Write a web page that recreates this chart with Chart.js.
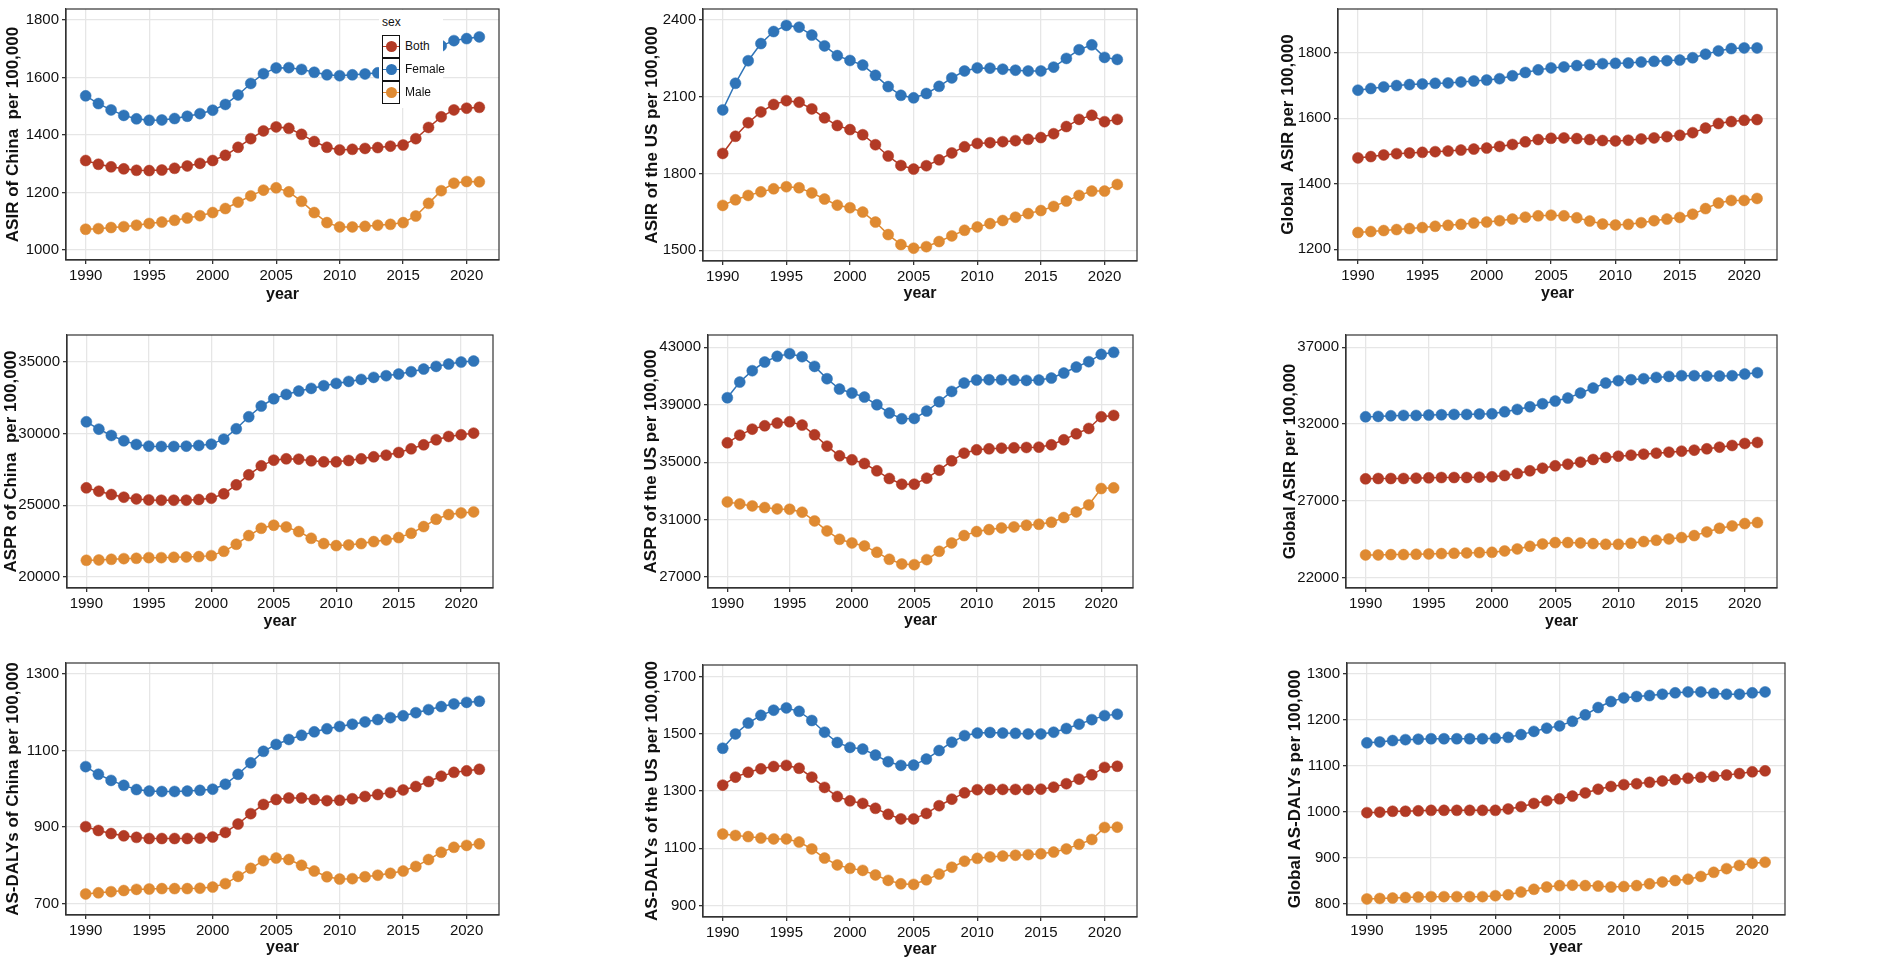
<!DOCTYPE html>
<html>
<head>
<meta charset="utf-8">
<script src="https://cdn.jsdelivr.net/npm/chart.js@4.4.0/dist/chart.umd.min.js"></script>
<style>
  body { margin: 0; background: #fff; width: 1902px; height: 968px; position: relative; overflow: hidden; }
  canvas { position: absolute; }
  #legend { position: absolute; left: 379px; top: 10px; width: 64px; height: 98px; background: #fff;
            font-family: 'Liberation Sans', Arial, sans-serif; color: #111; }
  #legend .lt { position: absolute; left: 3px; top: 5px; font-size: 12px; }
  #legend .key { position: absolute; left: 3px; width: 16px; height: 21px; border: 1.5px solid #111; }
  #legend .ln { position: absolute; left: 0; right: 0; top: 9.5px; height: 1.5px; }
  #legend .pt { position: absolute; left: 2.5px; top: 5px; width: 11px; height: 11px; border-radius: 50%; }
  #legend .lb { position: absolute; left: 26px; font-size: 12px; }
</style>
</head>
<body>
<canvas id="c1"></canvas><canvas id="c2"></canvas><canvas id="c3"></canvas>
<canvas id="c4"></canvas><canvas id="c5"></canvas><canvas id="c6"></canvas>
<canvas id="c7"></canvas><canvas id="c8"></canvas><canvas id="c9"></canvas>
<div id="legend"></div>
<script>
// years and tick labels
var years = [1990,1991,1992,1993,1994,1995,1996,1997,1998,1999,2000,2001,2002,2003,2004,2005,
             2006,2007,2008,2009,2010,2011,2012,2013,2014,2015,2016,2017,2018,2019,2020,2021];
var yearTicks = [1990, 1995, 2000, 2005, 2010, 2015, 2020];
var sexNames = ["Both", "Female", "Male"];
var sexColors = ["#B23A25", "#2F74B8", "#DF8A32"];

// ASIR of China
var asirChinaBoth   = [1311,1298,1289,1282,1277,1276,1278,1284,1292,1301,1311,1329,1357,1387,1414,1428,1423,1402,1377,1357,1348,1350,1353,1356,1361,1365,1387,1426,1463,1487,1493,1496];
var asirChinaFemale = [1536,1509,1487,1468,1456,1451,1452,1457,1465,1474,1486,1506,1539,1579,1613,1633,1634,1628,1618,1609,1606,1609,1612,1616,1622,1630,1650,1680,1710,1728,1735,1741];
var asirChinaMale   = [1072,1074,1078,1081,1086,1092,1097,1103,1111,1119,1130,1144,1166,1188,1208,1216,1202,1169,1130,1095,1080,1080,1082,1086,1089,1095,1118,1162,1206,1232,1238,1237];
var asirChinaTicks  = [1000, 1200, 1400, 1600, 1800];

// ASIR of the US
var asirUsBoth   = [1878,1945,1998,2040,2069,2084,2078,2052,2017,1987,1971,1951,1912,1868,1831,1817,1830,1853,1880,1904,1917,1920,1924,1928,1933,1940,1955,1983,2011,2027,2002,2011];
var asirUsFemale = [2048,2152,2240,2307,2354,2378,2371,2340,2298,2260,2241,2223,2183,2139,2105,2095,2112,2140,2173,2200,2212,2211,2207,2203,2200,2200,2215,2249,2283,2302,2253,2245];
var asirUsMale   = [1675,1697,1714,1728,1740,1748,1744,1724,1700,1676,1666,1649,1610,1561,1522,1508,1514,1534,1556,1578,1591,1604,1616,1629,1643,1655,1671,1692,1714,1731,1731,1757];
var asirUsTicks  = [1500, 1800, 2100, 2400];

// Global ASIR
var asirGlobalBoth   = [1479,1483,1488,1492,1494,1496,1498,1500,1503,1506,1509,1514,1520,1528,1535,1539,1540,1538,1535,1532,1531,1533,1537,1540,1544,1548,1556,1570,1584,1590,1594,1596];
var asirGlobalFemale = [1686,1691,1696,1700,1703,1705,1707,1708,1711,1714,1717,1721,1730,1740,1748,1754,1757,1761,1764,1767,1768,1769,1772,1774,1776,1778,1785,1796,1806,1813,1815,1815];
var asirGlobalMale   = [1251,1254,1257,1260,1263,1266,1270,1273,1276,1280,1283,1287,1292,1298,1302,1304,1302,1296,1286,1277,1274,1276,1281,1287,1292,1297,1307,1324,1341,1349,1349,1355];
var asirGlobalTicks  = [1200, 1400, 1600, 1800];

// ASPR of China
var asprChinaBoth   = [26209,25977,25744,25558,25442,25372,25349,25349,25349,25395,25488,25791,26419,27116,27744,28140,28233,28209,28093,28023,28023,28116,28233,28372,28488,28674,28930,29209,29558,29791,29907,30023];
var asprChinaFemale = [30814,30302,29860,29488,29233,29116,29093,29093,29116,29163,29256,29605,30326,31163,31907,32419,32721,32953,33140,33326,33488,33628,33767,33907,34023,34140,34302,34488,34674,34837,34977,35047];
var asprChinaMale   = [21163,21186,21233,21279,21302,21349,21349,21372,21395,21419,21488,21791,22279,22884,23395,23605,23488,23163,22698,22326,22186,22233,22326,22465,22581,22744,23047,23512,24023,24349,24465,24535];
var asprChinaTicks  = [20000, 25000, 30000, 35000];

// ASPR of the US
var asprUsBoth   = [36349,36884,37302,37535,37721,37814,37581,36907,36116,35442,35163,34907,34395,33860,33465,33465,33884,34442,35093,35628,35860,35930,35977,36000,36023,36047,36209,36558,36977,37349,38163,38256];
var asprUsFemale = [39488,40581,41372,41977,42372,42558,42349,41674,40814,40093,39814,39535,39000,38419,38023,38047,38558,39209,39930,40512,40721,40744,40744,40721,40698,40721,40860,41209,41628,42000,42512,42651];
var asprUsMale   = [32233,32093,31953,31837,31744,31721,31512,30907,30209,29628,29372,29163,28721,28233,27907,27860,28209,28791,29372,29884,30163,30302,30419,30488,30605,30674,30814,31140,31535,32023,33163,33209];
var asprUsTicks  = [27000, 31000, 35000, 39000, 43000];

// Global (second row)
var asprGlobalBoth   = [28435,28457,28457,28457,28478,28500,28522,28522,28522,28543,28565,28652,28783,28957,29130,29283,29391,29522,29696,29826,29913,29978,30043,30109,30174,30239,30304,30391,30500,30609,30739,30804];
var asprGlobalFemale = [32478,32500,32543,32565,32565,32587,32609,32630,32630,32652,32674,32804,32957,33130,33326,33500,33696,34022,34348,34674,34826,34891,34957,35043,35109,35152,35152,35130,35130,35152,35261,35348];
var asprGlobalMale   = [23478,23478,23500,23500,23522,23543,23565,23587,23609,23630,23652,23739,23870,24043,24196,24283,24283,24261,24217,24174,24174,24239,24348,24435,24522,24609,24739,24978,25217,25370,25522,25587];
var asprGlobalTicks  = [22000, 27000, 32000, 37000];

// AS-DALYs of China
var dalyChinaBoth   = [901,891,883,877,873,870,870,870,870,871,874,886,908,935,959,972,976,976,972,969,970,974,980,985,990,997,1006,1019,1033,1043,1047,1051];
var dalyChinaFemale = [1058,1038,1022,1009,998,994,993,993,994,996,999,1012,1038,1068,1098,1116,1129,1140,1149,1157,1163,1169,1175,1181,1186,1191,1199,1207,1215,1222,1226,1229];
var dalyChinaMale   = [725,728,731,734,737,738,739,739,739,740,743,752,771,792,812,819,815,800,785,770,764,765,770,774,779,785,797,815,834,847,852,856];
var dalyChinaTicks  = [700, 900, 1100, 1300];

// AS-DALYs of the US
var dalyUsBoth   = [1321,1349,1366,1378,1386,1390,1380,1349,1313,1281,1266,1257,1240,1219,1203,1203,1222,1249,1272,1294,1305,1306,1306,1306,1306,1307,1314,1326,1342,1357,1383,1387];
var dalyUsFemale = [1450,1500,1538,1565,1583,1591,1579,1547,1506,1470,1453,1447,1426,1403,1390,1391,1412,1442,1471,1494,1503,1505,1503,1502,1500,1500,1506,1519,1534,1550,1564,1569];
var dalyUsMale   = [1150,1145,1141,1136,1133,1133,1122,1098,1066,1042,1030,1023,1007,988,976,974,990,1010,1034,1055,1065,1070,1073,1076,1078,1081,1087,1098,1114,1131,1173,1174];
var dalyUsTicks  = [900, 1100, 1300, 1500, 1700];

// Global AS-DALYs
var dalyGlobalBoth   = [998,999,1001,1001,1002,1003,1003,1003,1003,1003,1003,1006,1011,1018,1024,1028,1034,1041,1049,1055,1059,1061,1064,1067,1070,1073,1075,1077,1080,1083,1087,1089];
var dalyGlobalFemale = [1150,1152,1155,1157,1158,1159,1159,1159,1159,1159,1160,1162,1168,1175,1182,1187,1197,1211,1227,1240,1248,1251,1253,1256,1259,1261,1261,1258,1256,1256,1259,1261];
var dalyGlobalMale   = [810,811,812,813,814,815,815,815,815,815,817,819,825,831,836,839,840,839,838,836,837,839,843,847,850,853,859,868,876,883,888,890];
var dalyGlobalTicks  = [800, 900, 1000, 1100, 1200, 1300];

var xRange = [1988.45, 2022.55];

// panel setup: cell = [left, top, width, height], plot = [left, top, right, bottom]
var panels = [
  {id:"c1", title:"ASIR of China  per 100,000", series:[asirChinaBoth, asirChinaFemale, asirChinaMale], ticks:asirChinaTicks, yRange:[965,1838],
   cell:[0,0,640,320], plot:[66,9,499,260], yTitleX:13, xTitleY:295},
  {id:"c2", title:"ASIR of the US per 100,000", series:[asirUsBoth, asirUsFemale, asirUsMale], ticks:asirUsTicks, yRange:[1458,2442],
   cell:[640,0,630,320], plot:[703,9,1137,261], yTitleX:652, xTitleY:294},
  {id:"c3", title:"Global  ASIR per 100,000", series:[asirGlobalBoth, asirGlobalFemale, asirGlobalMale], ticks:asirGlobalTicks, yRange:[1167,1934],
   cell:[1270,0,632,320], plot:[1338,9,1777,260], yTitleX:1288, xTitleY:294},
  {id:"c4", title:"ASPR of China  per 100,000", series:[asprChinaBoth, asprChinaFemale, asprChinaMale], ticks:asprChinaTicks, yRange:[19233,36860],
   cell:[0,320,640,320], plot:[67,335,493,588], yTitleX:11, xTitleY:622},
  {id:"c5", title:"ASPR of the US per 100,000", series:[asprUsBoth, asprUsFemale, asprUsMale], ticks:asprUsTicks, yRange:[26233,43860],
   cell:[640,320,630,320], plot:[708,335,1133,588], yTitleX:651, xTitleY:621},
  {id:"c6", title:"Global ASIR per 100,000", series:[asprGlobalBoth, asprGlobalFemale, asprGlobalMale], ticks:asprGlobalTicks, yRange:[21326,37804],
   cell:[1270,320,632,320], plot:[1346,335,1777,588], yTitleX:1290, xTitleY:622},
  {id:"c7", title:"AS-DALYs of China per 100,000", series:[dalyChinaBoth, dalyChinaFemale, dalyChinaMale], ticks:dalyChinaTicks, yRange:[670,1329],
   cell:[0,640,640,328], plot:[66,663,499,915], yTitleX:13, xTitleY:948},
  {id:"c8", title:"AS-DALYs of the US per 100,000", series:[dalyUsBoth, dalyUsFemale, dalyUsMale], ticks:dalyUsTicks, yRange:[860,1741],
   cell:[640,640,630,328], plot:[703,665,1137,917], yTitleX:652, xTitleY:950},
  {id:"c9", title:"Global AS-DALYs per 100,000", series:[dalyGlobalBoth, dalyGlobalFemale, dalyGlobalMale], ticks:dalyGlobalTicks, yRange:[775,1324],
   cell:[1270,640,632,328], plot:[1347,663,1785,915], yTitleX:1295, xTitleY:948}
];

var sans = "'Liberation Sans', Arial, sans-serif";

// dark frame round the plot panel, like ggplot theme_bw
var framePlugin = {
  id: "frame",
  afterDatasetsDraw: function (chart) {
    var a = chart.chartArea, ctx = chart.ctx;
    ctx.save();
    ctx.strokeStyle = "#333";
    ctx.lineWidth = 1.2;
    ctx.strokeRect(a.left, a.top, a.right - a.left, a.bottom - a.top);
    ctx.restore();
  }
};

function makeChart(p) {
  var cv = document.getElementById(p.id);
  var cl = p.cell[0], ct = p.cell[1], cw = p.cell[2], ch = p.cell[3];
  cv.width = cw; cv.height = ch;
  cv.style.left = cl + "px"; cv.style.top = ct + "px";

  var yAxisW = p.plot[0] - cl;
  var xAxisH = ct + ch - p.plot[3];
  var xTitlePad = (ct + ch) - p.xTitleY - 16 * 1.2 / 2;
  var yTitlePad = p.yTitleX - cl - 17 * 1.2 / 2;

  var datasets = [];
  for (var s = 0; s < 3; s++) {
    var vals = p.series[s];
    datasets.push({
      label: sexNames[s],
      data: years.map(function (yr, i) { return {x: yr, y: vals[i]}; }),
      borderColor: sexColors[s],
      backgroundColor: sexColors[s],
      pointBackgroundColor: sexColors[s],
      pointBorderColor: sexColors[s],
      pointBorderWidth: 0.5,
      pointRadius: 5.5,
      borderWidth: 1.5,
      tension: 0
    });
  }

  new Chart(cv, {
    type: "line",
    data: {datasets: datasets},
    options: {
      responsive: false,
      animation: false,
      layout: {padding: {top: p.plot[1] - ct, right: cl + cw - p.plot[2], left: 0, bottom: 0}},
      plugins: {legend: {display: false}, tooltip: {enabled: false}},
      scales: {
        x: {
          type: "linear",
          min: xRange[0], max: xRange[1],
          afterBuildTicks: function (sc) { sc.ticks = yearTicks.map(function (v) { return {value: v}; }); },
          afterFit: function (sc) { sc.height = xAxisH; sc.paddingLeft = 0; sc.paddingRight = 0; },
          ticks: {autoSkip: false, maxRotation: 0, padding: 3, color: "#111",
                  font: {family: sans, size: 15}, callback: function (v) { return String(v); }},
          grid: {color: "#e6e6e6", lineWidth: 1.3, tickLength: 4, tickColor: "#333"},
          border: {color: "#333", width: 1.2},
          title: {display: true, text: "year", color: "#111", padding: {top: 0, bottom: xTitlePad},
                  font: {family: sans, size: 16, weight: "bold"}}
        },
        y: {
          min: p.yRange[0], max: p.yRange[1],
          afterBuildTicks: function (sc) { sc.ticks = p.ticks.map(function (v) { return {value: v}; }); },
          afterFit: function (sc) { sc.width = yAxisW; sc.paddingTop = 0; sc.paddingBottom = 0; },
          ticks: {autoSkip: false, padding: 3, color: "#111",
                  font: {family: sans, size: 15}, callback: function (v) { return String(v); }},
          grid: {color: "#e6e6e6", lineWidth: 1.3, tickLength: 4, tickColor: "#333"},
          border: {color: "#333", width: 1.2},
          title: {display: true, text: p.title, color: "#111", padding: {top: yTitlePad, bottom: 0},
                  font: {family: sans, size: 17, weight: "bold"}}
        }
      }
    },
    plugins: [framePlugin]
  });
}

panels.forEach(makeChart);

// legend box drawn over the first panel
var lg = document.getElementById("legend");
var html = '<div class="lt">sex</div>';
for (var i = 0; i < sexNames.length; i++) {
  var keyTop = 25 + i * 23;
  html += '<div class="key" style="top:' + keyTop + 'px"><i class="ln" style="background:' + sexColors[i] + '"></i>' +
          '<i class="pt" style="background:' + sexColors[i] + '"></i></div>' +
          '<div class="lb" style="top:' + (keyTop + 4) + 'px">' + sexNames[i] + '</div>';
}
lg.innerHTML = html;
</script>
</body>
</html>
